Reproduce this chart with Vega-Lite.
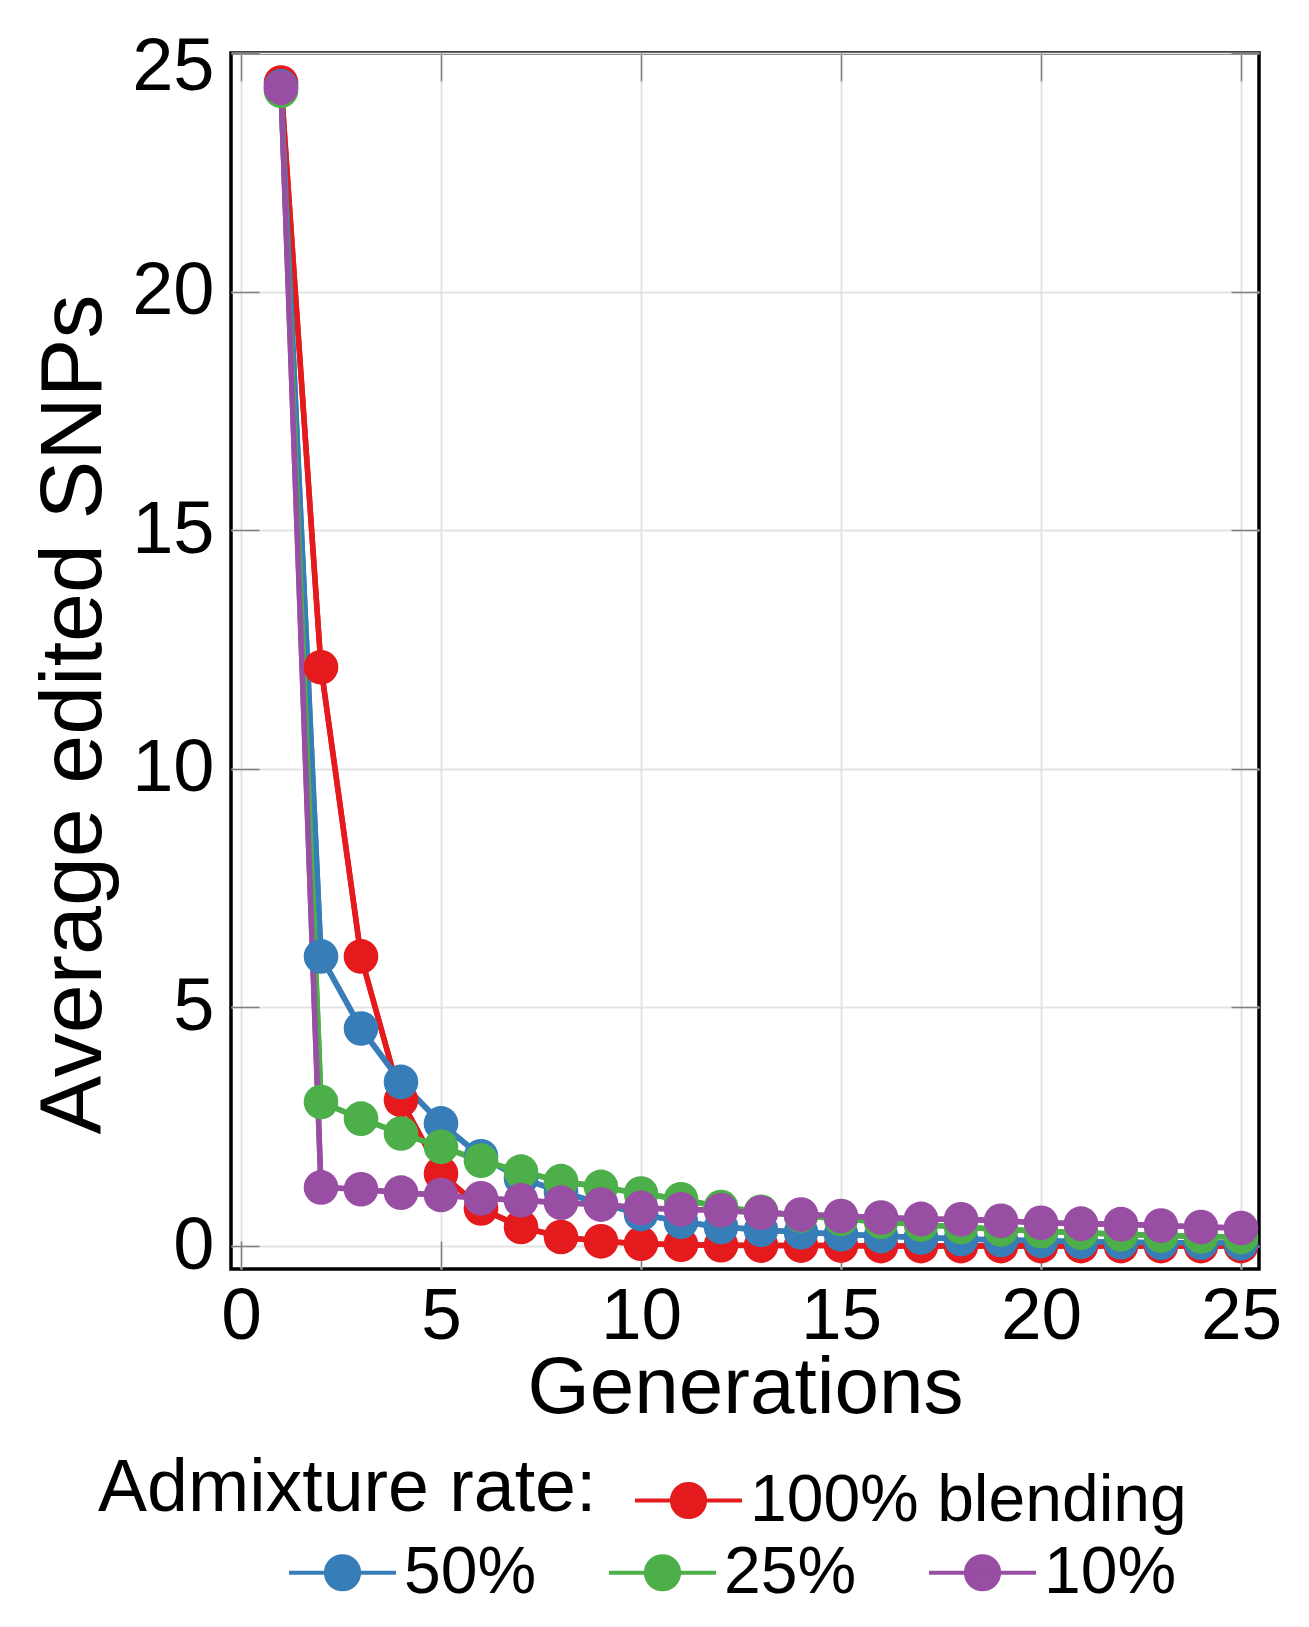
{
  "$schema": "https://vega.github.io/schema/vega-lite/v6.json",
  "autosize": "none",
  "width": 1028,
  "height": 1216,
  "padding": {"left": 231, "top": 53, "right": 50, "bottom": 358},
  "background": "white",
  "config": {
    "font": "Liberation Sans",
    "view": {"stroke": "black", "strokeWidth": 3.5},
    "axis": {
      "labelFont": "Liberation Sans",
      "titleFont": "Liberation Sans",
      "labelColor": "black",
      "titleColor": "black",
      "titleFontWeight": "normal",
      "domain": false,
      "gridColor": "#e3e3e3",
      "gridWidth": 2,
      "gridOpacity": 1,
      "tickColor": "#808080",
      "tickWidth": 1.5,
      "tickSize": -28,
      "labelFlush": false,
      "labelOverlap": false
    },
    "legend": {
      "labelFont": "Liberation Sans",
      "titleFont": "Liberation Sans"
    }
  },
  "data": {
    "values": [
      {"g": 1, "v": 24.38, "s": "100% blending"},
      {"g": 2, "v": 12.13, "s": "100% blending"},
      {"g": 3, "v": 6.07, "s": "100% blending"},
      {"g": 4, "v": 3.06, "s": "100% blending"},
      {"g": 5, "v": 1.52, "s": "100% blending"},
      {"g": 6, "v": 0.79, "s": "100% blending"},
      {"g": 7, "v": 0.40, "s": "100% blending"},
      {"g": 8, "v": 0.19, "s": "100% blending"},
      {"g": 9, "v": 0.10, "s": "100% blending"},
      {"g": 10, "v": 0.05, "s": "100% blending"},
      {"g": 11, "v": 0.03, "s": "100% blending"},
      {"g": 12, "v": 0.02, "s": "100% blending"},
      {"g": 13, "v": 0.01, "s": "100% blending"},
      {"g": 14, "v": 0.01, "s": "100% blending"},
      {"g": 15, "v": 0.01, "s": "100% blending"},
      {"g": 16, "v": 0.0, "s": "100% blending"},
      {"g": 17, "v": 0.0, "s": "100% blending"},
      {"g": 18, "v": 0.0, "s": "100% blending"},
      {"g": 19, "v": 0.0, "s": "100% blending"},
      {"g": 20, "v": 0.0, "s": "100% blending"},
      {"g": 21, "v": 0.0, "s": "100% blending"},
      {"g": 22, "v": 0.0, "s": "100% blending"},
      {"g": 23, "v": 0.0, "s": "100% blending"},
      {"g": 24, "v": 0.0, "s": "100% blending"},
      {"g": 25, "v": 0.0, "s": "100% blending"},
      {"g": 1, "v": 24.3, "s": "50%"},
      {"g": 2, "v": 6.07, "s": "50%"},
      {"g": 3, "v": 4.56, "s": "50%"},
      {"g": 4, "v": 3.44, "s": "50%"},
      {"g": 5, "v": 2.57, "s": "50%"},
      {"g": 6, "v": 1.88, "s": "50%"},
      {"g": 7, "v": 1.42, "s": "50%"},
      {"g": 8, "v": 1.14, "s": "50%"},
      {"g": 9, "v": 0.89, "s": "50%"},
      {"g": 10, "v": 0.67, "s": "50%"},
      {"g": 11, "v": 0.51, "s": "50%"},
      {"g": 12, "v": 0.40, "s": "50%"},
      {"g": 13, "v": 0.34, "s": "50%"},
      {"g": 14, "v": 0.29, "s": "50%"},
      {"g": 15, "v": 0.25, "s": "50%"},
      {"g": 16, "v": 0.21, "s": "50%"},
      {"g": 17, "v": 0.18, "s": "50%"},
      {"g": 18, "v": 0.15, "s": "50%"},
      {"g": 19, "v": 0.13, "s": "50%"},
      {"g": 20, "v": 0.11, "s": "50%"},
      {"g": 21, "v": 0.09, "s": "50%"},
      {"g": 22, "v": 0.08, "s": "50%"},
      {"g": 23, "v": 0.07, "s": "50%"},
      {"g": 24, "v": 0.07, "s": "50%"},
      {"g": 25, "v": 0.06, "s": "50%"},
      {"g": 1, "v": 24.21, "s": "25%"},
      {"g": 2, "v": 3.02, "s": "25%"},
      {"g": 3, "v": 2.67, "s": "25%"},
      {"g": 4, "v": 2.36, "s": "25%"},
      {"g": 5, "v": 2.08, "s": "25%"},
      {"g": 6, "v": 1.79, "s": "25%"},
      {"g": 7, "v": 1.56, "s": "25%"},
      {"g": 8, "v": 1.36, "s": "25%"},
      {"g": 9, "v": 1.24, "s": "25%"},
      {"g": 10, "v": 1.10, "s": "25%"},
      {"g": 11, "v": 0.98, "s": "25%"},
      {"g": 12, "v": 0.82, "s": "25%"},
      {"g": 13, "v": 0.72, "s": "25%"},
      {"g": 14, "v": 0.64, "s": "25%"},
      {"g": 15, "v": 0.57, "s": "25%"},
      {"g": 16, "v": 0.51, "s": "25%"},
      {"g": 17, "v": 0.45, "s": "25%"},
      {"g": 18, "v": 0.40, "s": "25%"},
      {"g": 19, "v": 0.35, "s": "25%"},
      {"g": 20, "v": 0.31, "s": "25%"},
      {"g": 21, "v": 0.28, "s": "25%"},
      {"g": 22, "v": 0.25, "s": "25%"},
      {"g": 23, "v": 0.22, "s": "25%"},
      {"g": 24, "v": 0.20, "s": "25%"},
      {"g": 25, "v": 0.19, "s": "25%"},
      {"g": 1, "v": 24.27, "s": "10%"},
      {"g": 2, "v": 1.23, "s": "10%"},
      {"g": 3, "v": 1.19, "s": "10%"},
      {"g": 4, "v": 1.12, "s": "10%"},
      {"g": 5, "v": 1.07, "s": "10%"},
      {"g": 6, "v": 1.00, "s": "10%"},
      {"g": 7, "v": 0.96, "s": "10%"},
      {"g": 8, "v": 0.91, "s": "10%"},
      {"g": 9, "v": 0.87, "s": "10%"},
      {"g": 10, "v": 0.80, "s": "10%"},
      {"g": 11, "v": 0.77, "s": "10%"},
      {"g": 12, "v": 0.75, "s": "10%"},
      {"g": 13, "v": 0.70, "s": "10%"},
      {"g": 14, "v": 0.66, "s": "10%"},
      {"g": 15, "v": 0.63, "s": "10%"},
      {"g": 16, "v": 0.60, "s": "10%"},
      {"g": 17, "v": 0.57, "s": "10%"},
      {"g": 18, "v": 0.56, "s": "10%"},
      {"g": 19, "v": 0.53, "s": "10%"},
      {"g": 20, "v": 0.49, "s": "10%"},
      {"g": 21, "v": 0.47, "s": "10%"},
      {"g": 22, "v": 0.46, "s": "10%"},
      {"g": 23, "v": 0.43, "s": "10%"},
      {"g": 24, "v": 0.40, "s": "10%"},
      {"g": 25, "v": 0.38, "s": "10%"}
    ]
  },
  "layer": [
    {
      "mark": {"type": "line", "strokeWidth": 5.5},
      "encoding": {
        "x": {
          "field": "g", "type": "quantitative",
          "scale": {"domain": [-0.25, 25.45], "nice": false, "zero": false},
          "axis": {"values": [0, 5, 10, 15, 20, 25], "title": "Generations", "labelFontSize": 73, "titleFontSize": 80, "labelPadding": 39, "titlePadding": -4, "orient": "bottom"}
        },
        "y": {
          "field": "v", "type": "quantitative",
          "scale": {"domain": [-0.48, 25], "nice": false, "zero": false},
          "axis": {"values": [0, 5, 10, 15, 20, 25], "title": "Average edited SNPs", "labelFontSize": 74, "titleFontSize": 88, "labelPadding": 45, "titlePadding": 13, "titleY": 661, "labelFlush": true, "labelFlushOffset": 22, "orient": "left"}
        },
        "color": {
          "field": "s", "type": "nominal",
          "scale": {"domain": ["100% blending", "50%", "25%", "10%"], "range": ["#e41a1c", "#377eb8", "#4daf4a", "#984ea3"]},
          "legend": {
            "values": ["100% blending"],
            "title": "Admixture rate:",
            "titleOrient": "left",
            "titleAnchor": "middle",
            "titleBaseline": "middle",
            "titleFontSize": 73.5,
            "titleFontWeight": "normal",
            "titleColor": "black",
            "titlePadding": 36,
            "titleLimit": 0,
            "labelFontSize": 66,
            "labelColor": "black",
            "labelLimit": 0,
            "labelOffset": 6,
            "symbolType": "M-1,0L1,0M0.31,0A0.31,0.31,0,1,1,-0.31,0A0.31,0.31,0,1,1,0.31,0Z",
            "symbolSize": 11449,
            "symbolStrokeWidth": 4,
            "padding": 0,
            "orient": "none",
            "legendX": -133,
            "legendY": 1392,
            "direction": "horizontal",
            "encode": {"symbols": {"update": {"fill": {"scale": "color", "field": "value"}, "stroke": {"scale": "color", "field": "value"}, "opacity": {"value": 1}}}}
          }
        }
      }
    },
    {
      "mark": {"type": "line", "strokeWidth": 5.5},
      "encoding": {
        "x": {"field": "g", "type": "quantitative", "axis": null},
        "y": {"field": "v", "type": "quantitative", "axis": null},
        "stroke": {
          "field": "s", "type": "nominal",
          "scale": {"domain": ["10%", "25%", "50%", "100% blending"], "range": ["#984ea3", "#4daf4a", "#377eb8", "#e41a1c"]},
          "legend": {
            "values": ["50%", "25%", "10%"],
            "title": null,
            "labelFontSize": 66,
            "labelColor": "black",
            "labelLimit": 0,
            "labelOffset": 6,
            "columnPadding": 64,
            "symbolType": "M-1,0L1,0M0.31,0A0.31,0.31,0,1,1,-0.31,0A0.31,0.31,0,1,1,0.31,0Z",
            "symbolSize": 11449,
            "symbolStrokeWidth": 4,
            "padding": 0,
            "orient": "none",
            "legendX": 56,
            "legendY": 1464,
            "direction": "horizontal",
            "encode": {"symbols": {"update": {"fill": {"scale": "stroke", "field": "value"}, "stroke": {"scale": "stroke", "field": "value"}, "opacity": {"value": 1}}}}
          }
        }
      }
    },
    {
      "mark": {"type": "point", "filled": true, "opacity": 1, "size": 1200},
      "encoding": {
        "x": {"field": "g", "type": "quantitative", "axis": {"orient": "top", "labels": false, "title": null, "grid": false, "values": [0, 5, 10, 15, 20, 25]}},
        "y": {"field": "v", "type": "quantitative", "axis": {"orient": "right", "labels": false, "title": null, "grid": false, "values": [0, 5, 10, 15, 20, 25]}},
        "fill": {
          "field": "s", "type": "nominal",
          "scale": {"domain": ["25%", "10%", "50%", "100% blending"], "range": ["#4daf4a", "#984ea3", "#377eb8", "#e41a1c"]},
          "legend": null
        }
      }
    }
  ]
}
